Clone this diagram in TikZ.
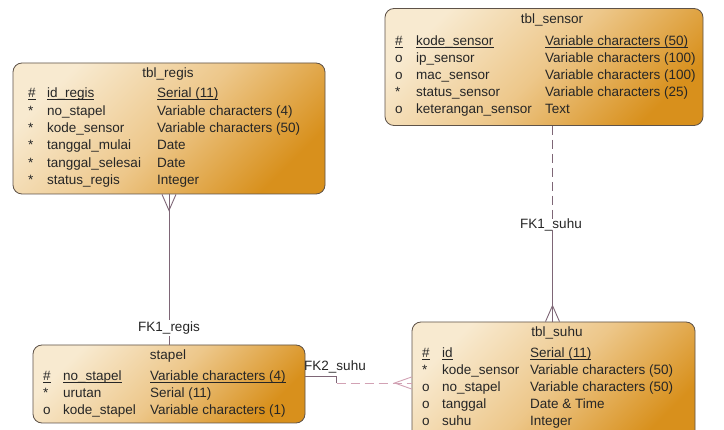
\documentclass[tikz,border=0pt]{standalone}
\usepackage{fontspec}
\setmainfont{Liberation Sans}
\usetikzlibrary{calc}
\definecolor{txtc}{HTML}{262626}
\definecolor{tanA}{HTML}{F8EAD0}
\definecolor{tanM}{HTML}{EDC78A}
\definecolor{tanB}{HTML}{D8901C}
\definecolor{bord}{HTML}{5E5248}
\definecolor{relc}{HTML}{7E6676}
\definecolor{relp}{HTML}{D2A2B4}
\newcommand\uln[1]{\setbox0\hbox{#1}\rlap{\rule[-2.2pt]{\wd0}{0.7pt}}\box0}
\newcommand\fsz{\fontsize{13.5}{16}\selectfont}
\begin{document}
\begin{tikzpicture}[x=1pt,y=-1pt,
  tbl/.style={draw=bord, line width=0.8pt, rounded corners=9pt, top color=tanA, bottom color=tanB, middle color=tanM, shading angle=45, inner sep=0pt},
  t/.style={anchor=base west, inner sep=0pt, text=txtc, font=\fsz},
  ttl/.style={anchor=base, inner sep=0pt, text=txtc, font=\fsz},
  lbl/.style={inner sep=0pt, text=txtc, font=\fsz},
  rel/.style={draw=relc, line width=0.9pt},
  relpk/.style={draw=relp, line width=0.9pt},
  dsh/.style={dash pattern=on 9pt off 5pt}]
\useasboundingbox (0,0) rectangle (724,430);
\clip (0,0) rectangle (724,430);
\fill[white] (0,0) rectangle (724,430);

% ---------- tables ----------
\node[tbl, minimum width=312pt, minimum height=131pt] (regis) at (169,128.5) {};
\node[tbl, minimum width=318pt, minimum height=117pt] (sensor) at (544,67) {};
\node[tbl, minimum width=272pt, minimum height=78pt] (stapel) at (169,384) {};
\node[tbl, minimum width=283pt, minimum height=123pt] (suhu) at (553.5,383.5) {};

% tbl_regis
\node[ttl] (rgt) at (168,78) {tbl\_regis};
\foreach \m/\n/\ty [count=\i from 0] in {
  \uln{\#}/\uln{id\_regis}/\uln{Serial (11)},
  */no\_stapel/Variable characters (4),
  */kode\_sensor/Variable characters (50),
  */tanggal\_mulai/Date,
  */tanggal\_selesai/Date,
  */status\_regis/Integer}{
  \node[t] (rgm\i) at (28,{98+17.3*\i}) {\m};
  \node[t] (rgn\i) at (47,{98+17.3*\i}) {\n};
  \node[t] (rgy\i) at (157,{98+17.3*\i}) {\ty};
}

% tbl_sensor
\node[ttl] (sst) at (552,24) {tbl\_sensor};
\foreach \m/\n/\ty [count=\i from 0] in {
  \uln{\#}/\uln{kode\_sensor}/\uln{Variable characters (50)},
  o/ip\_sensor/Variable characters (100),
  o/mac\_sensor/Variable characters (100),
  */status\_sensor/Variable characters (25),
  o/keterangan\_sensor/Text}{
  \node[t] (ssm\i) at (395,{46+17*\i}) {\m};
  \node[t] (ssn\i) at (416,{46+17*\i}) {\n};
  \node[t] (ssy\i) at (545,{46+17*\i}) {\ty};
}

% stapel
\node[ttl] (stt) at (168,360) {stapel};
\foreach \m/\n/\ty [count=\i from 0] in {
  \uln{\#}/\uln{no\_stapel}/\uln{Variable characters (4)},
  */urutan/Serial (11),
  o/kode\_stapel/Variable characters (1)}{
  \node[t] (stm\i) at (43,{381+17*\i}) {\m};
  \node[t] (stn\i) at (63,{381+17*\i}) {\n};
  \node[t] (sty\i) at (150,{381+17*\i}) {\ty};
}

% tbl_suhu
\node[ttl] (sht) at (557,337) {tbl\_suhu};
\foreach \m/\n/\ty [count=\i from 0] in {
  \uln{\#}/\uln{id}/\uln{Serial (11)},
  */kode\_sensor/Variable characters (50),
  o/no\_stapel/Variable characters (50),
  o/tanggal/Date \& Time,
  o/suhu/Integer}{
  \node[t] (shm\i) at (422,{358+17*\i}) {\m};
  \node[t] (shn\i) at (442,{358+17*\i}) {\n};
  \node[t] (shy\i) at (530,{358+17*\i}) {\ty};
}

% ---------- FK1_regis ----------
\draw[rel] (regis.south) -- (stapel.north);
\coordinate (cf1) at (regis.south);
\draw[rel] ($(cf1)+(-7,0)$) -- ($(cf1)+(0,16)$) -- ($(cf1)+(7,0)$);
\node[lbl, fill=white, inner sep=1.5pt] (fk1r) at (169,328) {FK1\_regis};

% ---------- FK1_suhu ----------
\node[lbl] (fk1s) at (551,225) {FK1\_suhu};
\coordinate (s1) at ($(fk1s.north)+(1.5,0)$);
\coordinate (s2) at ($(fk1s.south)+(1.5,-1)$);
\draw[rel, dsh] (sensor.south -| s1) -- (s1);
\draw[rel] (s2) -- (suhu.north -| s2);
\coordinate (cf2) at (suhu.north -| s2);
\draw[rel] ($(cf2)+(-7,0)$) -- ($(cf2)+(0,-16)$) -- ($(cf2)+(7,0)$);

% ---------- FK2_suhu ----------
\node[lbl] (fk2s) at (335,367) {FK2\_suhu};
\coordinate (k1) at (336.5,376);
\coordinate (k2) at (336.5,383);
\draw[rel] (stapel.east |- k1) -- (k1) -- (k2);
\draw[relpk, dsh] (k2) -- (suhu.west |- k2);
\coordinate (cf3) at (suhu.west |- k2);
\draw[relpk] ($(cf3)+(0,-6)$) -- ($(cf3)+(-17,0)$) -- ($(cf3)+(0,6)$);
\end{tikzpicture}
\end{document}
